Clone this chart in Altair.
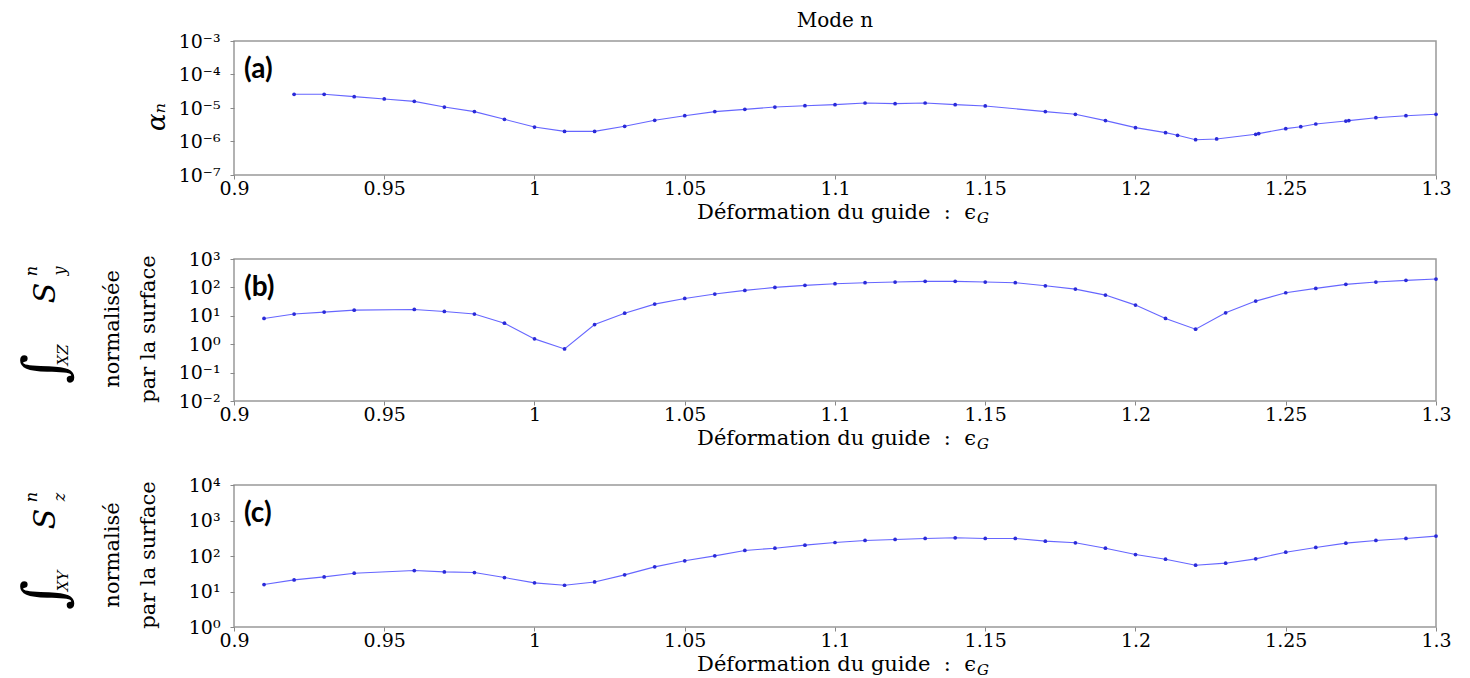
import altair as alt
import pandas as pd

# ---------------- data ----------------
x_a = [0.92, 0.93, 0.94, 0.95, 0.96, 0.97, 0.98, 0.99, 1.00, 1.01, 1.02, 1.03, 1.04,
       1.05, 1.06, 1.07, 1.08, 1.09, 1.10, 1.11, 1.12, 1.13, 1.14, 1.15, 1.17, 1.18,
       1.19, 1.20, 1.21, 1.214, 1.22, 1.227, 1.24, 1.241, 1.25, 1.255, 1.26, 1.27,
       1.271, 1.28, 1.29, 1.30]
y_a = [2.56e-5, 2.56e-5, 2.18e-5, 1.86e-5, 1.58e-5, 1.07e-5, 7.8e-6, 4.6e-6, 2.7e-6,
       2.0e-6, 2.0e-6, 2.84e-6, 4.3e-6, 5.9e-6, 7.8e-6, 9.1e-6, 1.07e-5, 1.17e-5,
       1.26e-5, 1.41e-5, 1.35e-5, 1.41e-5, 1.26e-5, 1.15e-5, 7.8e-6, 6.5e-6, 4.2e-6,
       2.59e-6, 1.84e-6, 1.53e-6, 1.13e-6, 1.19e-6, 1.64e-6, 1.72e-6, 2.42e-6, 2.77e-6,
       3.33e-6, 4.09e-6, 4.2e-6, 5.14e-6, 5.9e-6, 6.5e-6]

x_b = [0.91, 0.92, 0.93, 0.94, 0.96, 0.97, 0.98, 0.99, 1.00, 1.01, 1.02, 1.03, 1.04,
       1.05, 1.06, 1.07, 1.08, 1.09, 1.10, 1.11, 1.12, 1.13, 1.14, 1.15, 1.16, 1.17,
       1.18, 1.19, 1.20, 1.21, 1.22, 1.23, 1.24, 1.25, 1.26, 1.27, 1.28, 1.29, 1.30]
y_b = [8.05, 11.5, 13.5, 15.8, 16.7, 14.2, 11.5, 5.5, 1.54, 0.68, 4.9, 12.4, 25.8,
       40.9, 58.2, 78.3, 100, 118, 135, 146, 154, 163, 163, 154, 146, 114,
       87, 53.6, 23.8, 8.05, 3.38, 12.8, 32.9, 64.8, 92.2, 128, 154, 177, 197]

x_c = [0.91, 0.92, 0.93, 0.94, 0.96, 0.97, 0.98, 0.99, 1.00, 1.01, 1.02, 1.03, 1.04,
       1.05, 1.06, 1.07, 1.08, 1.09, 1.10, 1.11, 1.12, 1.13, 1.14, 1.15, 1.16, 1.17,
       1.18, 1.19, 1.20, 1.21, 1.22, 1.23, 1.24, 1.25, 1.26, 1.27, 1.28, 1.29, 1.30]
y_c = [15.7, 21.2, 25.8, 32.8, 39.0, 35.7, 34.2, 24.7, 17.5, 15.0, 18.6, 29.4, 49.4,
       73.1, 101, 143, 166, 202, 240, 274, 293, 312, 326, 312, 312, 262,
       236, 166, 110, 81.4, 55.1, 62.8, 83.2, 128, 174, 230, 274, 312, 363]

x_ticks = [0.9, 0.95, 1.0, 1.05, 1.1, 1.15, 1.2, 1.25, 1.3]
exp_a = [-7, -6, -5, -4, -3]
exp_b = [-2, -1, 0, 1, 2, 3]
exp_c = [0, 1, 2, 3, 4]

tags = ["(a)", "(b)", "(c)"]
main_title = "Mode n"
x_title = "Déformation du guide\u00a0\u00a0:\u00a0\u00a0ϵ"
x_title_sub = "G"
y_title_a = "αₙ"
norm_b = "normalisée"
norm_c = "normalisé"
par_surface = "par la surface"
integral = "∫"
sub_b = "XZ"
sub_c = "XY"
s_letter = "S"
s_sup = "n"
s_sub_b = "y"
s_sub_c = "z"

# ---------------- styling ----------------
SERIF = "DejaVu Serif"
W = 1202
LINE_COLOR = "#6666ff"
PT_COLOR = "#2a2ad8"

SUPS = {"-": "⁻", "0": "⁰", "1": "¹", "2": "²", "3": "³", "4": "⁴",
        "5": "⁵", "6": "⁶", "7": "⁷", "8": "⁸", "9": "⁹"}
sup_list = ["".join(SUPS[c] for c in str(k)) for k in range(-7, 5)]
LOG_LABEL = "'10' + " + str(sup_list) + "[round(log(datum.value)/LN10) + 7]"


def txt(value, x, y, size, angle=0, style="normal", weight="normal",
        font=SERIF, align="center", baseline="middle"):
    return alt.Chart(pd.DataFrame({"t": [value]})).mark_text(
        font=font, fontSize=size, fontStyle=style, fontWeight=weight,
        align=align, baseline=baseline, angle=angle, color="black"
    ).encode(text="t:N", x=alt.value(x), y=alt.value(y))


def panel(xs, ys, exps, h, tag, extra):
    df = pd.DataFrame({"x": xs, "y": ys})
    xenc = alt.X("x:Q",
                 scale=alt.Scale(domain=[0.9, 1.3], nice=False, zero=False),
                 axis=alt.Axis(values=x_ticks, format=".2~f", title=None,
                               labelFont=SERIF, labelFontSize=19, labelColor="black",
                               tickSize=4, tickColor="#888", labelPadding=0,
                               domain=False, grid=False, labelFlush=False))
    yenc = alt.Y("y:Q",
                 scale=alt.Scale(type="log", domain=[10.0 ** exps[0], 10.0 ** exps[-1]],
                                 nice=False),
                 axis=alt.Axis(values=[10.0 ** e for e in exps], labelExpr=LOG_LABEL,
                               title=None, labelFont=SERIF, labelFontSize=19,
                               labelColor="black", tickSize=4, tickColor="#888",
                               labelPadding=10, domain=False, grid=False,
                               labelFlush=False))
    base = alt.Chart(df)
    line = base.mark_line(color=LINE_COLOR, strokeWidth=1.1).encode(x=xenc, y=yenc)
    pts = base.mark_point(filled=True, color=PT_COLOR, size=14, opacity=1).encode(x=xenc, y=yenc)
    layers = [line, pts,
              txt(tag, 10, 29, 28, weight="bold", font="Lato", align="left"),
              txt(x_title, 742, h + 38, 21, align="right"),
              txt(x_title_sub, 743, h + 43, 15, style="italic", align="left")]
    layers += extra
    return alt.layer(*layers).properties(width=W, height=h)


def integral_title(sub, s_sub, norm):
    return [
        txt(integral, -187, 110, 58, angle=270),
        txt(sub, -171, 96, 15, angle=270, style="italic"),
        txt(s_letter, -188, 34, 30, angle=270, style="italic"),
        txt(s_sup, -202, 12, 16, angle=270, style="italic"),
        txt(s_sub, -174, 12, 16, angle=270, style="italic"),
        txt(norm, -121, 70, 21, angle=270),
        txt(par_surface, -85, 70, 21, angle=270),
    ]


pa = panel(x_a, y_a, exp_a, 134, tags[0], [
    txt(y_title_a, -77, 76, 26, angle=270, style="italic"),
    txt(main_title, W / 2, -20, 20),
])
pb = panel(x_b, y_b, exp_b, 142, tags[1], integral_title(sub_b, s_sub_b, norm_b))
pc = panel(x_c, y_c, exp_c, 142, tags[2], integral_title(sub_c, s_sub_c, norm_c))

chart = alt.vconcat(pa, pb, pc, spacing=84, bounds="flush").properties(
    padding={"left": 9, "top": 2, "right": 5, "bottom": 5},
    background="white",
).configure_view(stroke="#999999", strokeWidth=1.5)

chart.save("out.html", embed_options={"renderer": "svg", "actions": False})
